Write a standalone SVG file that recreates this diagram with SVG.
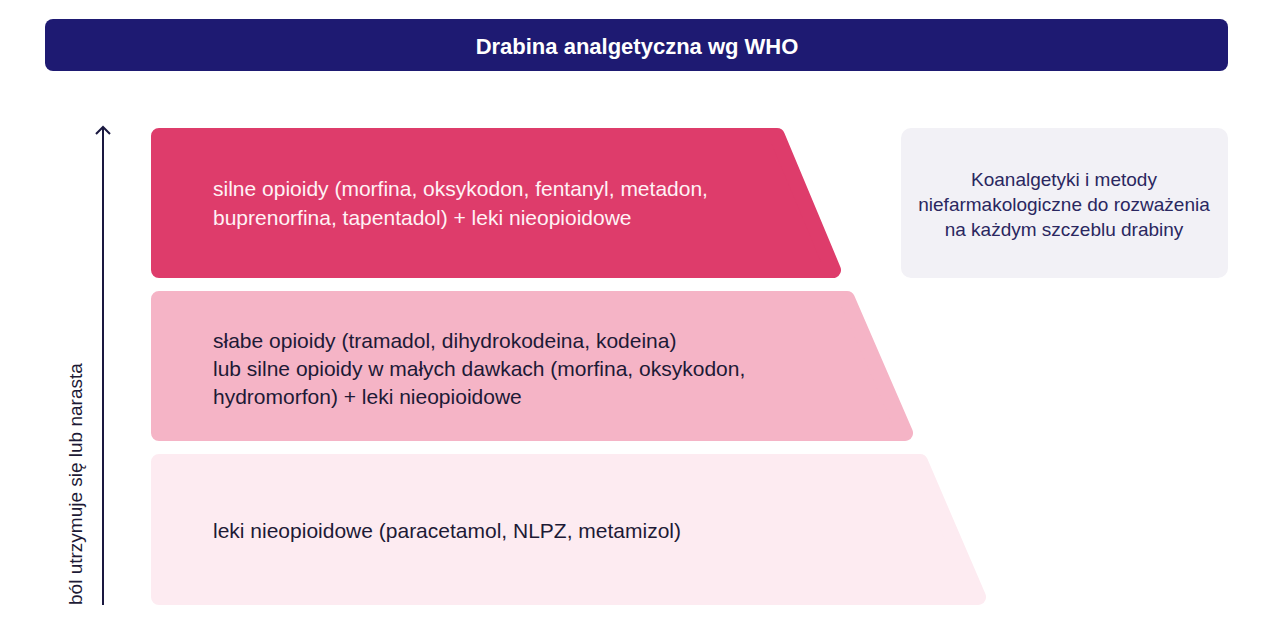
<svg xmlns="http://www.w3.org/2000/svg" width="1280" height="640" viewBox="0 0 1280 640">
<style>
.t{font-family:"Liberation Sans","Noto Sans",Arial,sans-serif}
.rung{stroke-width:16;stroke-linejoin:round}
.r1{fill:#de3c6b;stroke:#de3c6b}
.r2{fill:#f5b4c6;stroke:#f5b4c6}
.r3{fill:#fdebf1;stroke:#fdebf1}
.lbl{font-size:21px}
.light{fill:#fff2f5}
.dark{fill:#1d1a36}
.side{font-size:19px;fill:#2a2760;text-anchor:middle}
</style>
<defs>
<marker id="ah" viewBox="0 0 16 16" refX="11" refY="8" markerWidth="16" markerHeight="16" markerUnits="userSpaceOnUse" orient="auto">
<path d="M4,1 L11,8 L4,15" fill="none" stroke="#1a1840" stroke-width="2"/>
</marker>
</defs>
<rect width="1280" height="640" fill="#ffffff"/>
<g id="header">
<rect x="45" y="19" width="1183" height="52" rx="8" fill="#1e1a72"/>
<text class="t" x="637" y="54" font-size="22" font-weight="bold" fill="#ffffff" text-anchor="middle">Drabina analgetyczna wg WHO</text>
</g>
<g id="rung3">
<polygon class="rung r3" points="159,462 920,462 978,597 159,597"/>
<text class="t lbl dark" x="213" y="538">leki nieopioidowe (paracetamol, NLPZ, metamizol)</text>
</g>
<g id="rung2">
<polygon class="rung r2" points="159,299 847,299 905,433 159,433"/>
<text class="t lbl dark" x="213" y="348">słabe opioidy (tramadol, dihydrokodeina, kodeina)</text>
<text class="t lbl dark" x="213" y="376">lub silne opioidy w małych dawkach (morfina, oksykodon,</text>
<text class="t lbl dark" x="213" y="404">hydromorfon) + leki nieopioidowe</text>
</g>
<g id="rung1">
<polygon class="rung r1" points="159,136 777,136 833,270 159,270"/>
<text class="t lbl light" x="213" y="196">silne opioidy (morfina, oksykodon, fentanyl, metadon,</text>
<text class="t lbl light" x="213" y="225">buprenorfina, tapentadol) + leki nieopioidowe</text>
</g>
<g id="coanalgesics">
<rect x="901" y="128" width="327" height="150" rx="10" fill="#f2f1f6"/>
<text class="t side" x="1064" y="186">Koanalgetyki i metody</text>
<text class="t side" x="1064" y="211">niefarmakologiczne do rozważenia</text>
<text class="t side" x="1064" y="236">na każdym szczeblu drabiny</text>
</g>
<g id="connectors">
<line x1="103" y1="605" x2="103" y2="127" stroke="#1a1840" stroke-width="2" marker-end="url(#ah)"/>
</g>
<g id="axis-label">
<text class="t" transform="translate(82,605) rotate(-90)" font-size="19" fill="#1d1a36">ból utrzymuje się lub narasta</text>
</g>
</svg>
